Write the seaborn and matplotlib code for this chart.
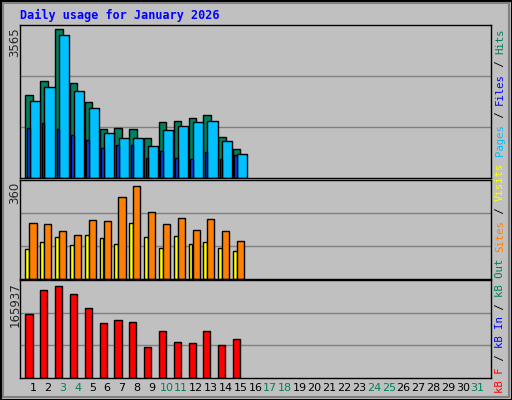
import numpy as np
import pandas as pd
import matplotlib
matplotlib.use('Agg')
import matplotlib.pyplot as plt
from matplotlib.patches import Rectangle
import seaborn as sns

days = list(range(1, 32))
n_data = 15
hits = [1992, 2331, 3565, 2283, 1823, 1169, 1193, 1169, 951, 1339, 1363, 1435, 1508, 975, 685]
pages = [1847, 2186, 3420, 2089, 1677, 1072, 951, 951, 758, 1145, 1242, 1338, 1363, 878, 564]
files = [1194, 1315, 1170, 1024, 903, 710, 782, 782, 468, 637, 468, 444, 613, 444, 540]
sites = [216, 212, 184, 169, 227, 223, 317, 360, 259, 212, 235, 188, 231, 184, 149]
visits = [118, 142, 161, 130, 169, 157, 134, 216, 161, 122, 165, 134, 142, 122, 110]
kbytes = [115040, 158660, 165937, 151400, 125950, 98690, 104140, 100500, 55070, 84150,
          64160, 62340, 84150, 58700, 69610]
weekend = [3, 4, 10, 11, 17, 18, 24, 25, 31]

sns.set_style('white')
plt.rcParams['font.family'] = ['DejaVu Sans']

fig = plt.figure(figsize=(5.12, 4.0), dpi=100)
fig.patch.set_facecolor('#c0c0c0')

W = 512.0
H = 400.0
def box(top, bot):
    return [20 / W, 1 - bot / H, 471 / W, (bot - top) / H]

ax1 = fig.add_axes(box(25, 178))
ax2 = fig.add_axes(box(180, 279))
ax3 = fig.add_axes(box(280, 378))

d = np.array(days[:n_data])

def bars(ax, xs, vals, width, color):
    df = pd.DataFrame({'x': xs, 'y': vals})
    sns.barplot(data=df, x='x', y='y', native_scale=True, width=width, color=color,
                edgecolor='black', linewidth=1, saturation=1, ax=ax)

bars(ax1, d - 0.26, hits, 0.5, '#00805c')
bars(ax1, d + 0.11, pages, 0.68, '#00c0ff')
bars(ax1, d - 0.32, files, 0.18, '#0040ff')
bars(ax2, d - 0.38, visits, 0.26, '#ffff00')
bars(ax2, d + 0.0, sites, 0.48, '#ff8000')
bars(ax3, d - 0.27, kbytes, 0.48, '#ff0000')

for ax, mx, frac, lab in [(ax1, max(hits), 148 / 152, '3565'),
                          (ax2, max(sites), 92 / 98, '360'),
                          (ax3, max(kbytes), 91.5 / 97, '165937')]:
    top = mx / frac
    ax.set_ylim(0, top)
    ax.set_xlim(0.12, 31.9)
    ax.set_facecolor('#c0c0c0')
    for g in (top / 3, 2 * top / 3):
        ax.axhline(g, color='#808080', lw=1, zorder=0)
    ax.set_xticks([])
    ax.set_yticks([])
    ax.set_xlabel('')
    ax.set_ylabel('')
    for s in ax.spines.values():
        s.set_color('black')
        s.set_linewidth(1)
    pos = ax.get_position()
    fig.text(15 / W, pos.y1 - 2 / H, lab, rotation=90, ha='center', va='top', fontsize=8.5)

for dd in days:
    x = 20 / W + (dd - 0.12) / (31.9 - 0.12) * 471 / W
    fig.text(x, 1 - 388 / H, str(dd), ha='center', va='center', fontsize=8,
             color='#00805c' if dd in weekend else 'black')

fig.text(20 / W, 1 - 15 / H, 'Daily usage for January 2026', fontsize=8.5,
         family='DejaVu Sans Mono', weight='bold', color='#0000ff', va='center')

pieces = [('kB F', '#ff0000'), (' / ', 'black'), ('kB In', '#0000ff'), (' / ', 'black'),
          ('kB Out', '#00805c'), (' ', 'black'), ('Sites', '#ff8000'), (' / ', 'black'),
          ('Visits', '#ffff00'), (' ', 'black'), ('Pages', '#00c0ff'), (' / ', 'black'),
          ('Files', '#0000ff'), (' / ', 'black'), ('Hits', '#00805c')]
y = 393.0
step = 6.4
for txt, col in pieces:
    if txt.strip():
        fig.text(500 / W, 1 - y / H, txt, rotation=90, ha='center', va='bottom',
                 fontsize=7.7, family='DejaVu Sans Mono', color=col)
    y -= step * len(txt)

fig.patches.append(Rectangle((0.5 / W, 0.5 / H), 1 - 1 / W, 1 - 1 / H, transform=fig.transFigure,
                             fill=False, edgecolor='black', lw=1.5))
fig.patches.append(Rectangle((3 / W, 3 / H), 1 - 6 / W, 1 - 6 / H, transform=fig.transFigure,
                             fill=False, edgecolor='#808080', lw=1.5))

fig.savefig('out.png', dpi=100, facecolor=fig.get_facecolor())
